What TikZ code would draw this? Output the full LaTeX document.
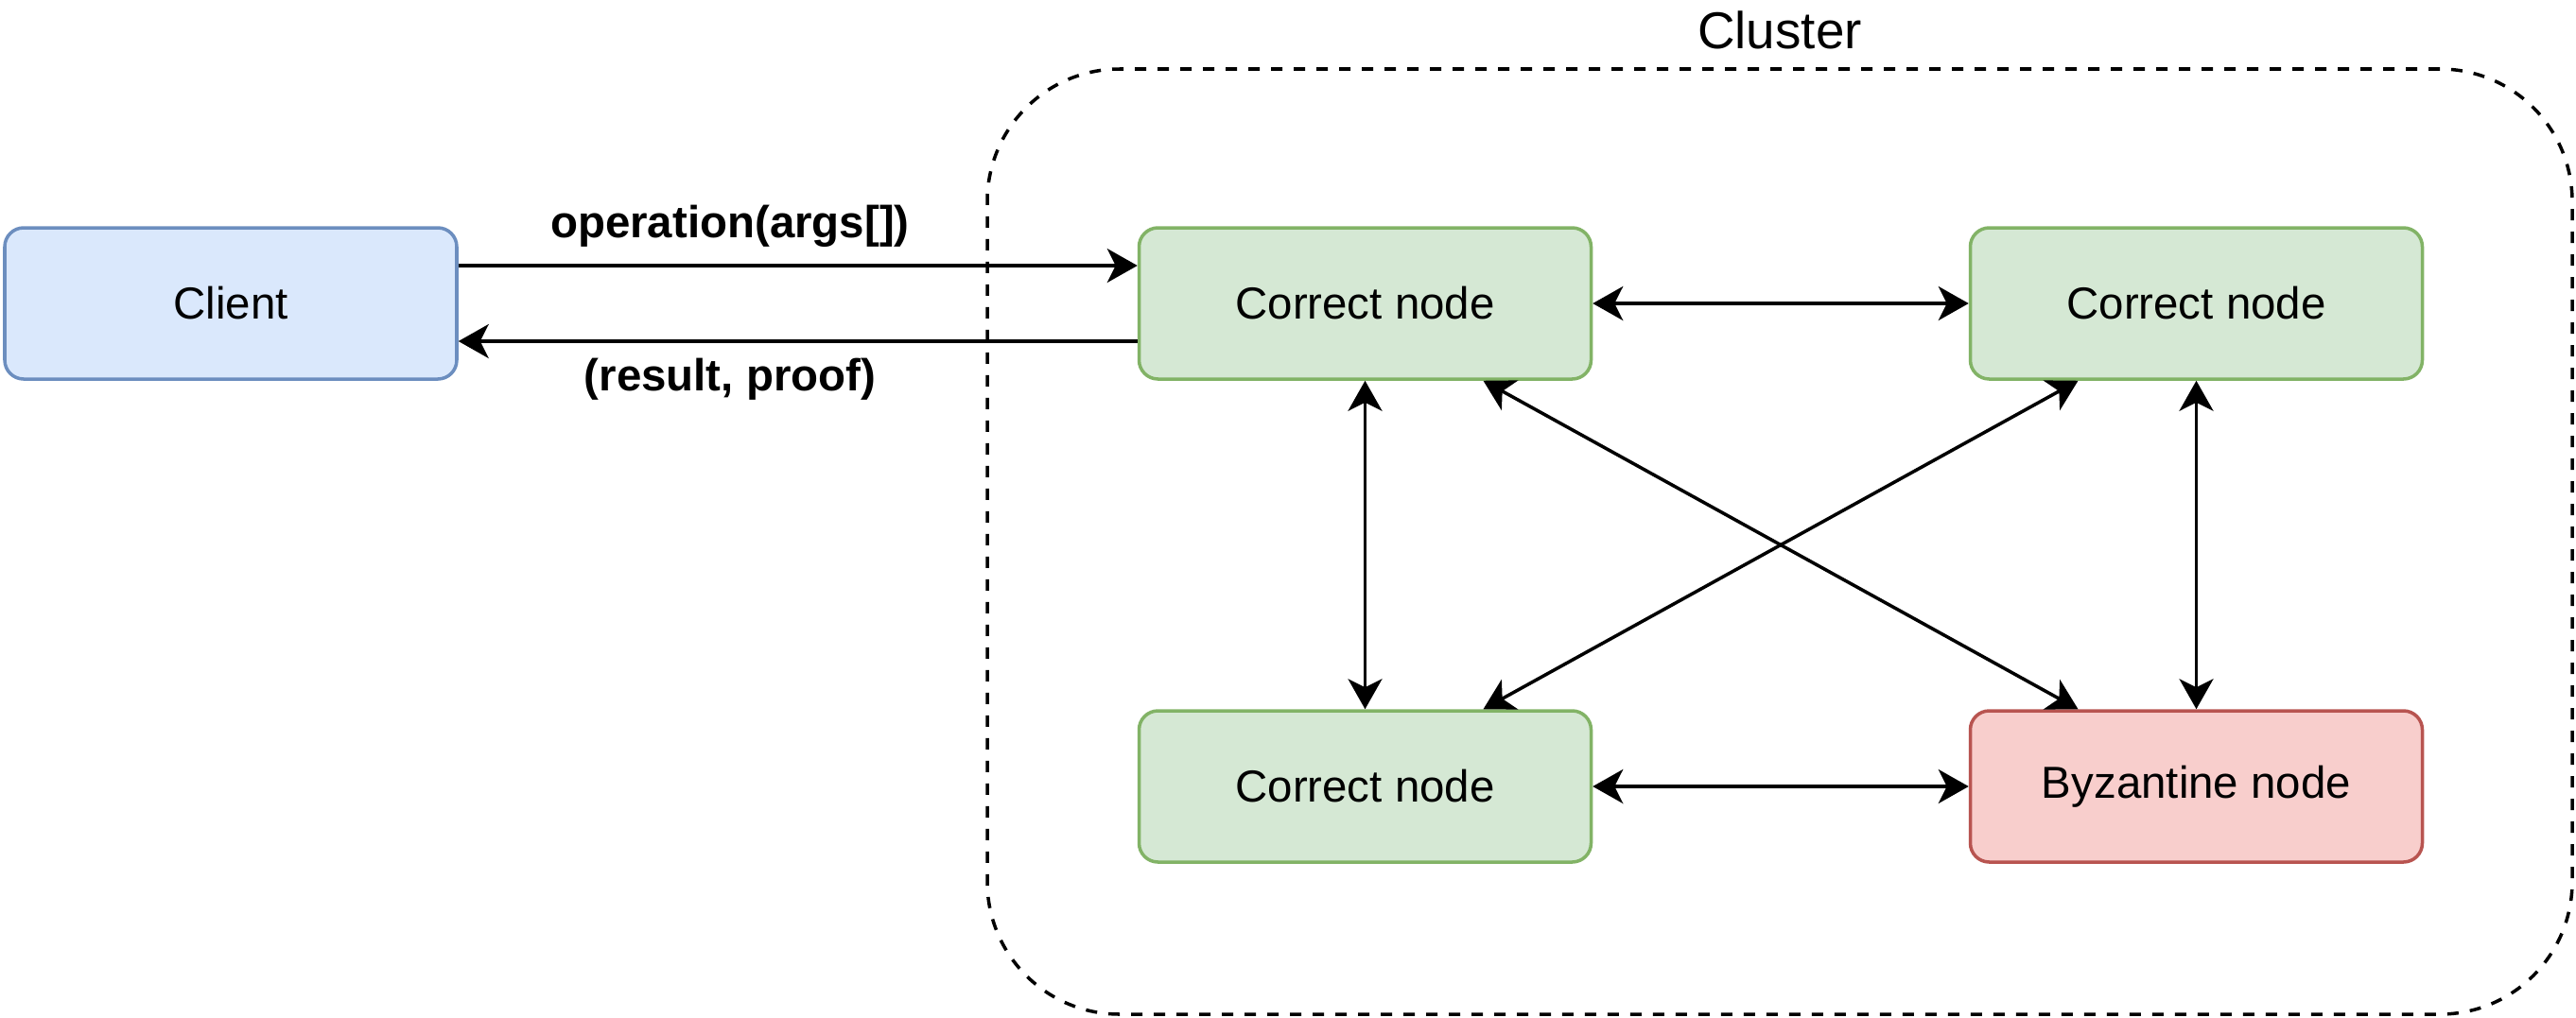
\documentclass[tikz,border=0pt]{standalone}
\usepackage{fontspec}
\setmainfont{Liberation Sans}
\usetikzlibrary{arrows.meta}

\definecolor{clientfill}{HTML}{DAE8FC}
\definecolor{clientline}{HTML}{6C8EBF}
\definecolor{okfill}{HTML}{D5E8D4}
\definecolor{okline}{HTML}{82B366}
\definecolor{badfill}{HTML}{F8CECC}
\definecolor{badline}{HTML}{B85450}

\begin{document}
\begin{tikzpicture}[
    >={Stealth[length=3.2mm,width=3.6mm,inset=0.9mm]},
    box/.style={draw, line width=1pt, rounded corners=0.2cm,
        minimum width=4.78cm, minimum height=1.6cm,
        font=\fontsize{13.5}{16}\selectfont},
    msg/.style={font=\fontsize{13.5}{16}\selectfont\bfseries},
    link/.style={line width=1pt, <->}
]
            \useasboundingbox (0,0) rectangle (27.24,-10.76);

            % Draw cluster
            \node[draw, dash pattern=on 0.12cm off 0.12cm, line width=1pt,
                rounded corners=1.4cm, minimum width=16.76cm, minimum height=10cm,
                label={[font=\fontsize{15.6}{18}\selectfont, yshift=0.07cm]above:Cluster}]
                (cluster) at (18.82,-5.73) {};

            % Draw client and replicas
            \node[box, fill=clientfill, draw=clientline] (client) at (2.44,-3.21) {Client};
            \node[box, fill=okfill, draw=okline] (n1) at (14.435,-3.21) {Correct node};
            \node[box, fill=okfill, draw=okline] (n2) at (23.225,-3.21) {Correct node};
            \node[box, fill=okfill, draw=okline] (n3) at (14.435,-8.32) {Correct node};
            \node[box, fill=badfill, draw=badline] (byz) at (23.225,-8.32) {Byzantine node};

            % Draw request and reply
            \draw[line width=1pt, ->] ([yshift=0.4cm]client.east) -- ([yshift=0.4cm]n1.west)
                node[msg, pos=0.4, above=0.06cm] (req) {operation(args[])};
            \draw[line width=1pt, ->] ([yshift=-0.4cm]n1.west) -- ([yshift=-0.4cm]client.east)
                node[msg, pos=0.6, below=0.05cm] (rep) {(result, proof)};

            % Draw links between replicas
            \draw[link] (n1) -- (n2);
            \draw[link] (n3) -- (byz);
            \draw[link] (n1) -- (n3);
            \draw[link] (n2) -- (byz);
            \draw[link] ([xshift=1.25cm]n1.south) -- ([xshift=-1.25cm]byz.north);
            \draw[link] ([xshift=-1.25cm]n2.south) -- ([xshift=1.25cm]n3.north);
        \end{tikzpicture}
\end{document}
